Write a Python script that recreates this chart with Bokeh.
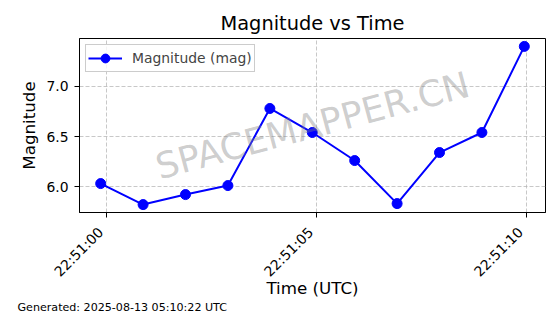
import math
import pandas as pd
from bokeh.plotting import figure
from bokeh.models import (ColumnDataSource, Range1d, FixedTicker, DatetimeTickFormatter,
                          Label, Legend, LegendItem, NumeralTickFormatter, Title)
from bokeh.embed import file_html
from bokeh.resources import INLINE

# ---- data ----
times = ["2025-08-12 22:50:59.85", "2025-08-12 22:51:00.86", "2025-08-12 22:51:01.87",
         "2025-08-12 22:51:02.88", "2025-08-12 22:51:03.88", "2025-08-12 22:51:04.89",
         "2025-08-12 22:51:05.90", "2025-08-12 22:51:06.91", "2025-08-12 22:51:07.92",
         "2025-08-12 22:51:08.93", "2025-08-12 22:51:09.94"]
magnitudes = [6.03, 5.82, 5.92, 6.01, 6.78, 6.54, 6.26, 5.83, 6.34, 6.54, 7.40]
x_ticks = ["2025-08-12 22:51:00", "2025-08-12 22:51:05", "2025-08-12 22:51:10"]
y_ticks = [6.0, 6.5, 7.0]
title_text = "Magnitude vs Time"
x_label = "Time (UTC)"
y_label = "Magnitude"
legend_label = "Magnitude (mag)"
footer_text = "Generated: 2025-08-13 05:10:22 UTC"
watermark = "SPACEMAPPER.CN"

def to_ms(s):
    return pd.Timestamp(s).value / 1e6

xs = [to_ms(t) for t in times]
xt = [to_ms(t) for t in x_ticks]

xmin, xmax = min(xs), max(xs)
ymin, ymax = min(magnitudes), max(magnitudes)
xpad = (xmax - xmin) * 0.05
ypad = (ymax - ymin) * 0.05

FONT = "DejaVu Sans"

p = figure(width=560, height=314, output_backend="svg", toolbar_location=None,
           x_axis_type="datetime",
           x_range=Range1d(xmin - xpad, xmax + xpad),
           y_range=Range1d(ymin - ypad, ymax + ypad),
           min_border_left=79, min_border_right=15, min_border_top=38, min_border_bottom=102)
p.title.text = title_text
p.title.align = "center"
p.title.text_font = FONT
p.title.text_font_size = "19.4px"
p.title.text_font_style = "normal"
p.title.text_color = "black"
p.title.standoff = 7
p.outline_line_color = "black"
p.outline_line_width = 1
p.background_fill_color = "white"
p.border_fill_color = "white"

src = ColumnDataSource(dict(x=xs, y=magnitudes))
ln = p.line("x", "y", source=src, line_color="#0000ff", line_width=2)
sc = p.scatter("x", "y", source=src, marker="circle", size=10,
               fill_color="#0000ff", line_color="#0000ff")

# axes
NB = "\u00a0\u00a0"
fmt = "%H:%M:%S" + NB
xa = p.xaxis[0]
xa.ticker = FixedTicker(ticks=xt)
xa.formatter = DatetimeTickFormatter(milliseconds=fmt, seconds=fmt, minsec=fmt, minutes=fmt,
                                     hourmin=fmt, hours=fmt)
xa.major_label_orientation = math.pi / 4
xa.axis_label = x_label

ya = p.yaxis[0]
ya.ticker = FixedTicker(ticks=y_ticks)
ya.formatter = NumeralTickFormatter(format="0.0")
ya.axis_label = y_label

for ax in (xa, ya):
    ax.axis_line_color = "black"
    ax.major_tick_line_color = "black"
    ax.major_tick_out = 5
    ax.major_tick_in = 0
    ax.minor_tick_line_color = None
    ax.major_label_text_font = FONT
    ax.major_label_text_font_size = "13.9px"
    ax.major_label_text_color = "black"
    ax.axis_label_text_font = FONT
    ax.axis_label_text_font_size = "16.7px"
    ax.axis_label_text_font_style = "normal"
    ax.axis_label_text_color = "black"
xa.major_label_standoff = 6
ya.major_label_standoff = 6
xa.axis_label_standoff = -10
ya.axis_label_standoff = 4

for g in (p.xgrid[0], p.ygrid[0]):
    g.grid_line_color = "#b0b0b0"
    g.grid_line_dash = "4 2"
    g.grid_line_alpha = 0.7
    g.grid_line_width = 1
p.xgrid[0].ticker = FixedTicker(ticks=xt)
p.ygrid[0].ticker = FixedTicker(ticks=y_ticks)

# watermark
p.add_layout(Label(x=(xmin + xmax) / 2, y=(ymin + ymax) / 2, text=watermark,
                   text_font=FONT, text_font_size="36px", text_color="gray",
                   text_alpha=0.4, angle=15, angle_units="deg",
                   text_align="center", text_baseline="middle"))

# legend
legend = Legend(items=[LegendItem(label=legend_label, renderers=[ln, sc])],
                location="top_left", label_text_font=FONT, label_text_font_size="13.9px",
                border_line_color="#cccccc", border_line_alpha=1, background_fill_alpha=0.8,
                padding=2, margin=6, glyph_width=34, glyph_height=22, label_height=22,
                label_standoff=10, spacing=0)
p.add_layout(legend, "center")

# footer
footer = Title(text=footer_text, align="left", offset=-62, text_font=FONT,
               text_font_size="11.1px", text_font_style="normal", text_color="black",
               standoff=-6)
p.add_layout(footer, "below")

open("out.html", "w").write(file_html(p, INLINE))
